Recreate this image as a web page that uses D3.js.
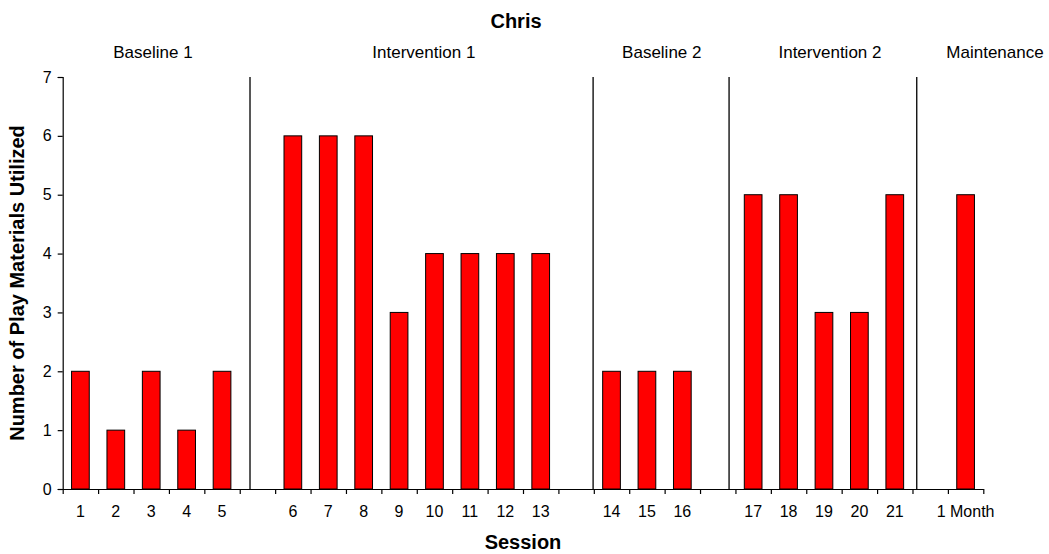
<!DOCTYPE html>
<html>
<head>
<meta charset="utf-8">
<script src="https://cdn.jsdelivr.net/npm/d3@7"></script>
<style>
  html, body { margin: 0; padding: 0; background: #fff; }
  svg { display: block; font-family: "Liberation Sans", Arial, Helvetica, sans-serif; }
</style>
</head>
<body>
<svg id="chart" width="1049" height="554"></svg>
<script>
// ---- Data ----
const slotKeys = ["1","2","3","4","5","g1","6","7","8","9","10","11","12","13","g2","14","15","16","g3","17","18","19","20","21","g4","1 Month"];
const values   = [2,1,2,1,2,null,6,6,6,3,4,4,4,4,null,2,2,2,null,5,5,3,3,5,null,5];
const yTicks = [0,1,2,3,4,5,6,7];
const phaseNames = ["Baseline 1","Intervention 1","Baseline 2","Intervention 2","Maintenance"];
const phaseLabelAt = [2.55, 10.2, 16.92, 21.67, 26.33];   // in slot units
const phaseLineAt  = [5.29, 14.98, 18.82, 24.12];          // in slot units
const chartTitle = "Chris";
const xTitle = "Session";
const yTitle = "Number of Play Materials Utilized";

// ---- Layout ----
const svg = d3.select("#chart");
const pLeft = 62.7, pRight = 983.3, pTop = 77, pBottom = 489;

const x = d3.scaleBand().domain(slotKeys).range([pLeft, pRight]).paddingInner(0.5).paddingOuter(0.25);
const xSlot = d3.scaleLinear().domain([0, slotKeys.length]).range([pLeft, pRight]);
const y = d3.scaleLinear().domain([0, 7]).range([pBottom, pTop]);

// Bars
svg.append("g").selectAll("rect")
  .data(slotKeys.map((k, i) => ({k, v: values[i]})).filter(d => d.v != null))
  .join("rect")
  .attr("x", d => x(d.k))
  .attr("width", x.bandwidth())
  .attr("y", d => y(d.v))
  .attr("height", d => y(0) - y(d.v))
  .attr("fill", "#ff0000")
  .attr("stroke", "#000")
  .attr("stroke-width", 1);

// Phase lines
svg.append("g").selectAll("line")
  .data(phaseLineAt)
  .join("line")
  .attr("x1", d => xSlot(d)).attr("x2", d => xSlot(d))
  .attr("y1", y(7)).attr("y2", y(0))
  .attr("stroke", "#111").attr("stroke-width", 1.4);

// Y axis
const yAxis = svg.append("g").attr("transform", `translate(${pLeft},0)`)
  .call(d3.axisLeft(y).tickValues(yTicks).tickFormat(d3.format("d")).tickSize(5).tickPadding(6));
yAxis.select(".domain").attr("stroke", "#000").attr("stroke-width", 1.2);
yAxis.selectAll(".tick line").attr("stroke", "#000").attr("stroke-width", 1.2);
yAxis.selectAll("text").attr("font-size", 16).attr("fill", "#000")
  .attr("font-family", "Liberation Sans, Arial, sans-serif");

// X axis: tick marks at slot boundaries
const xTickAxis = svg.append("g").attr("transform", `translate(0,${pBottom})`)
  .call(d3.axisBottom(xSlot).tickValues(d3.range(slotKeys.length + 1)).tickFormat("").tickSize(5).tickSizeOuter(0));
xTickAxis.select(".domain").attr("stroke", "#000").attr("stroke-width", 1.2);
xTickAxis.selectAll(".tick line").attr("stroke", "#000").attr("stroke-width", 1.2);

// X axis labels at slot centres
const xLabelAxis = svg.append("g").attr("transform", `translate(0,${pBottom})`)
  .call(d3.axisBottom(x).tickSize(0).tickPadding(17).tickFormat(k => k.startsWith("g") ? "" : k));
xLabelAxis.select(".domain").remove();
xLabelAxis.selectAll("text").attr("font-size", 16).attr("fill", "#000")
  .attr("font-family", "Liberation Sans, Arial, sans-serif");

// Phase labels
svg.append("g").selectAll("text")
  .data(phaseNames)
  .join("text")
  .attr("x", (d, i) => xSlot(phaseLabelAt[i]))
  .attr("y", 58)
  .attr("text-anchor", "middle")
  .attr("font-size", 17)
  .attr("fill", "#000")
  .text(d => d);

// Title
svg.append("text").attr("x", 516).attr("y", 28).attr("text-anchor", "middle")
  .attr("font-size", 20).attr("font-weight", "bold").text(chartTitle);

// Axis titles
svg.append("text").attr("x", (pLeft + pRight) / 2).attr("y", 549).attr("text-anchor", "middle")
  .attr("font-size", 20).attr("font-weight", "bold").text(xTitle);
svg.append("text").attr("transform", `translate(24,${(pTop + pBottom) / 2}) rotate(-90)`)
  .attr("text-anchor", "middle")
  .attr("font-size", 20).attr("font-weight", "bold").text(yTitle);
</script>
</body>
</html>
